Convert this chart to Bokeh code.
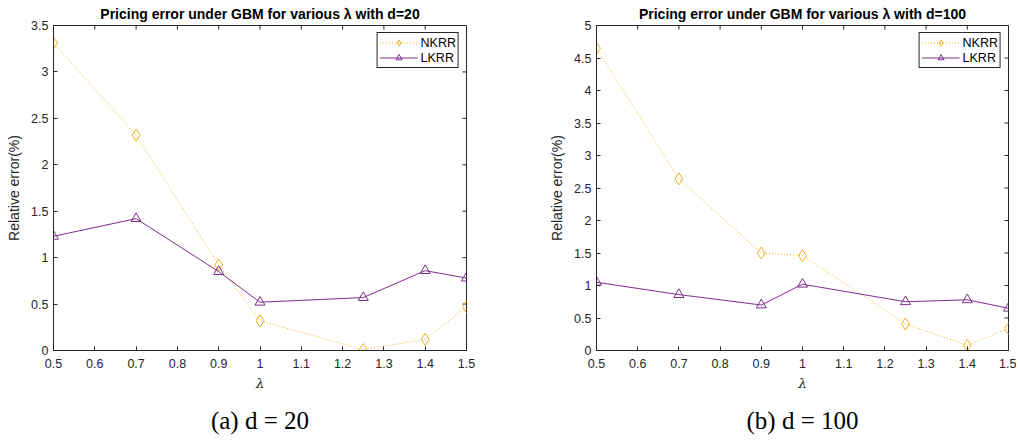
import math
from bokeh.plotting import figure
from bokeh.layouts import row
from bokeh.models import Title, FixedTicker, Range1d
from bokeh.embed import file_html
from bokeh.resources import INLINE

lam = [0.5, 0.7, 0.9, 1.0, 1.25, 1.4, 1.5]
nkrr_d20 = [3.31, 2.32, 0.92, 0.32, 0.01, 0.12, 0.47]
lkrr_d20 = [1.23, 1.42, 0.85, 0.52, 0.57, 0.86, 0.78]
nkrr_d100 = [4.65, 2.64, 1.50, 1.46, 0.41, 0.08, 0.34]
lkrr_d100 = [1.05, 0.86, 0.70, 1.02, 0.75, 0.78, 0.65]

x_ticks = [0.5, 0.6, 0.7, 0.8, 0.9, 1.0, 1.1, 1.2, 1.3, 1.4, 1.5]
x_tick_labels = ["0.5", "0.6", "0.7", "0.8", "0.9", "1", "1.1", "1.2", "1.3", "1.4", "1.5"]
y_ticks_d20 = [0, 0.5, 1, 1.5, 2, 2.5, 3, 3.5]
y_labels_d20 = ["0", "0.5", "1", "1.5", "2", "2.5", "3", "3.5"]
y_ticks_d100 = [0, 0.5, 1, 1.5, 2, 2.5, 3, 3.5, 4, 4.5, 5]
y_labels_d100 = ["0", "0.5", "1", "1.5", "2", "2.5", "3", "3.5", "4", "4.5", "5"]

titles = ["Pricing error under GBM for various \u03bb with d=20",
          "Pricing error under GBM for various \u03bb with d=100"]
captions = ["(a) d = 20", "(b) d = 100"]

AX = "#262626"
YEL = "#EDB120"
PUR = "#7E2F8E"
FONT = "Liberation Sans"


def make(width, mbl, mbr, ymax, yt, yl, nk, lk, title, caption):
    p = figure(width=width, height=444, output_backend="svg", toolbar_location=None,
               x_range=Range1d(0.5, 1.5), y_range=Range1d(0, ymax),
               min_border_left=mbl, min_border_right=mbr, min_border_top=0,
               min_border_bottom=0)
    p.title.text = title
    p.title.text_font = FONT
    p.title.text_font_size = "14px"
    p.title.text_font_style = "bold"
    p.title.align = "center"
    p.title.standoff = 7
    p.title.offset = 0
    p.title.text_color = "black"
    p.grid.visible = False
    p.outline_line_color = AX
    p.outline_line_alpha = 1.0

    for ax in (p.xaxis[0], p.yaxis[0]):
        ax.major_tick_in = 4
        ax.major_tick_out = 0
        ax.minor_tick_in = 0
        ax.minor_tick_out = 0
        ax.axis_line_color = AX
        ax.major_tick_line_color = AX
        ax.major_label_text_color = AX
        ax.major_label_text_font = FONT
        ax.major_label_text_font_size = "12.5px"
        ax.axis_label_text_color = AX
    p.xaxis.ticker = FixedTicker(ticks=x_ticks)
    p.xaxis.major_label_overrides = dict(zip(x_ticks, x_tick_labels))
    p.xaxis.major_label_standoff = 8
    p.xaxis.axis_label = "\u03bb"
    p.xaxis.axis_label_text_font = "DejaVu Serif"
    p.xaxis.axis_label_text_font_style = "italic"
    p.xaxis.axis_label_text_font_size = "13px"
    p.xaxis.axis_label_standoff = 5
    p.yaxis.ticker = FixedTicker(ticks=yt)
    p.yaxis.major_label_overrides = dict(zip(yt, yl))
    p.yaxis.major_label_standoff = 5
    p.yaxis.axis_label = "Relative error(%)"
    p.yaxis.axis_label_text_font = FONT
    p.yaxis.axis_label_text_font_style = "normal"
    p.yaxis.axis_label_text_font_size = "14px"
    p.yaxis.axis_label_standoff = 6

    # mirrored ticks on top and right edges of the box
    p.ray(x=x_ticks, y=[ymax] * len(x_ticks), length=4, length_units="screen",
          angle=-math.pi / 2, line_color=AX, line_width=1)
    p.ray(x=[1.5] * len(yt), y=yt, length=4, length_units="screen",
          angle=math.pi, line_color=AX, line_width=1)

    p.line(lam, nk, line_color=YEL, line_width=1, line_dash="1 2", legend_label="NKRR")
    p.scatter(lam, nk, marker="diamond", size=12, line_color=YEL, fill_color=None,
              line_width=1, legend_label="NKRR")
    p.line(lam, lk, line_color=PUR, line_width=1, legend_label="LKRR")
    p.scatter(lam, lk, marker="triangle", size=10, line_color=PUR, fill_color=None,
              line_width=1, legend_label="LKRR")

    lg = p.legend[0]
    lg.location = "top_right"
    lg.margin = 7
    lg.padding = 2
    lg.spacing = 0
    lg.border_line_color = AX
    lg.border_line_alpha = 1.0
    lg.label_text_font = FONT
    lg.label_text_font_size = "12.5px"
    lg.label_text_color = "black"
    lg.glyph_width = 38
    lg.glyph_height = 15
    lg.label_height = 15
    lg.label_standoff = 3

    cap = Title(text=caption, text_font="Liberation Serif", text_font_size="25px",
                text_font_style="normal", align="center", text_color="black",
                standoff=22)
    p.add_layout(cap, "below")
    return p


p1 = make(500, 53, 34, 3.5, y_ticks_d20, y_labels_d20, nkrr_d20, lkrr_d20, titles[0], captions[0])
p2 = make(516, 96, 8, 5, y_ticks_d100, y_labels_d100, nkrr_d100, lkrr_d100, titles[1], captions[1])

layout = row(p1, p2, spacing=0)
open("out.html", "w").write(file_html(layout, INLINE))
